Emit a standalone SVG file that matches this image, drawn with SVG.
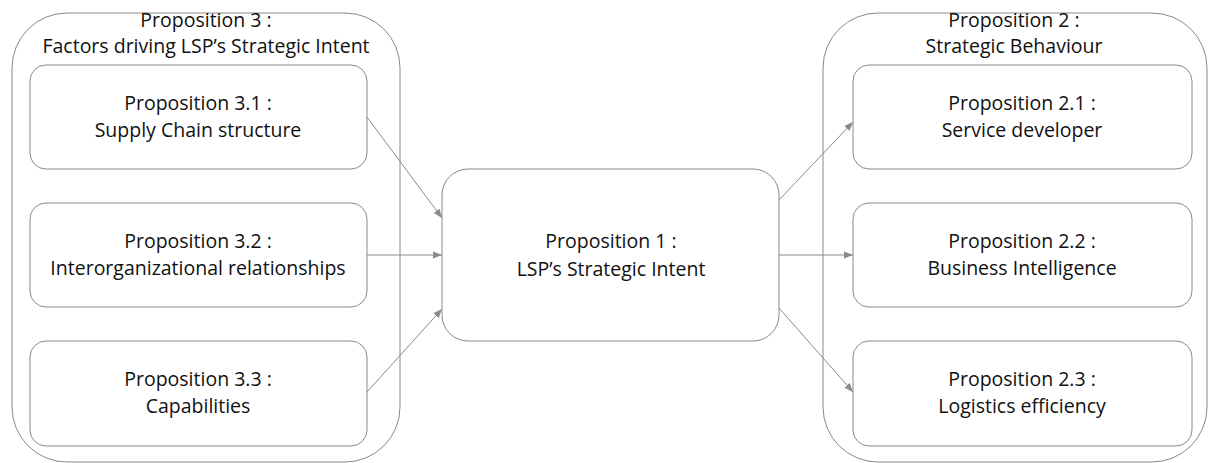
<svg xmlns="http://www.w3.org/2000/svg" width="1210" height="463" viewBox="0 0 1210 463">
<style>
.outer{fill:none;stroke:#8a8a8a;stroke-width:1}
.box{fill:#fff;stroke:#8a8a8a;stroke-width:1}
.t{font-family:"Open Sans","Liberation Sans",sans-serif;font-size:19.5px;fill:#111;text-anchor:middle}
.c{stroke:#8a8a8a;stroke-width:1;fill:none;marker-end:url(#ah)}
</style>
<defs>
<marker id="ah" viewBox="0 0 10 10" refX="10" refY="5" markerWidth="9" markerHeight="9" markerUnits="userSpaceOnUse" orient="auto">
<path d="M0,1 L10,5 L0,9 z" fill="#8a8a8a"/>
</marker>
</defs>
<rect width="1210" height="463" fill="#fff"/>
<g id="prop3">
<rect class="outer" x="12" y="13" width="388" height="449" rx="55" ry="55"/>
<text class="t" x="206" y="27">Proposition 3 :</text>
<text class="t" x="206" y="53">Factors driving LSP’s Strategic Intent</text>
</g>
<g id="prop2">
<rect class="outer" x="823" y="13" width="384" height="449" rx="55" ry="55"/>
<text class="t" x="1014" y="27">Proposition 2 :</text>
<text class="t" x="1014" y="53">Strategic Behaviour</text>
</g>
<g id="prop31">
<rect class="box" x="30" y="65" width="337" height="104" rx="16" ry="16"/>
<text class="t" x="198" y="110">Proposition 3.1 :</text>
<text class="t" x="198" y="137">Supply Chain structure</text>
</g>
<g id="prop32">
<rect class="box" x="30" y="203" width="337" height="104" rx="16" ry="16"/>
<text class="t" x="198" y="248">Proposition 3.2 :</text>
<text class="t" x="198" y="275">Interorganizational relationships</text>
</g>
<g id="prop33">
<rect class="box" x="30" y="341" width="337" height="105" rx="16" ry="16"/>
<text class="t" x="198" y="386">Proposition 3.3 :</text>
<text class="t" x="198" y="413">Capabilities</text>
</g>
<g id="prop1">
<rect class="box" x="442" y="169" width="337" height="172" rx="26" ry="26"/>
<text class="t" x="611" y="248">Proposition 1 :</text>
<text class="t" x="611" y="276">LSP’s Strategic Intent</text>
</g>
<g id="prop21">
<rect class="box" x="853" y="65" width="339" height="104" rx="16" ry="16"/>
<text class="t" x="1022" y="110">Proposition 2.1 :</text>
<text class="t" x="1022" y="137">Service developer</text>
</g>
<g id="prop22">
<rect class="box" x="853" y="203" width="339" height="104" rx="16" ry="16"/>
<text class="t" x="1022" y="248">Proposition 2.2 :</text>
<text class="t" x="1022" y="275">Business Intelligence</text>
</g>
<g id="prop23">
<rect class="box" x="853" y="341" width="339" height="105" rx="16" ry="16"/>
<text class="t" x="1022" y="386">Proposition 2.3 :</text>
<text class="t" x="1022" y="413">Logistics efficiency</text>
</g>
<g id="connectors">
<line class="c" x1="367" y1="117" x2="442" y2="218"/>
<line class="c" x1="367" y1="255" x2="442" y2="255"/>
<line class="c" x1="367" y1="392" x2="442" y2="309"/>
<line class="c" x1="779" y1="200" x2="853" y2="122"/>
<line class="c" x1="779" y1="255" x2="853" y2="255"/>
<line class="c" x1="779" y1="308" x2="853" y2="392"/>
</g>
</svg>
